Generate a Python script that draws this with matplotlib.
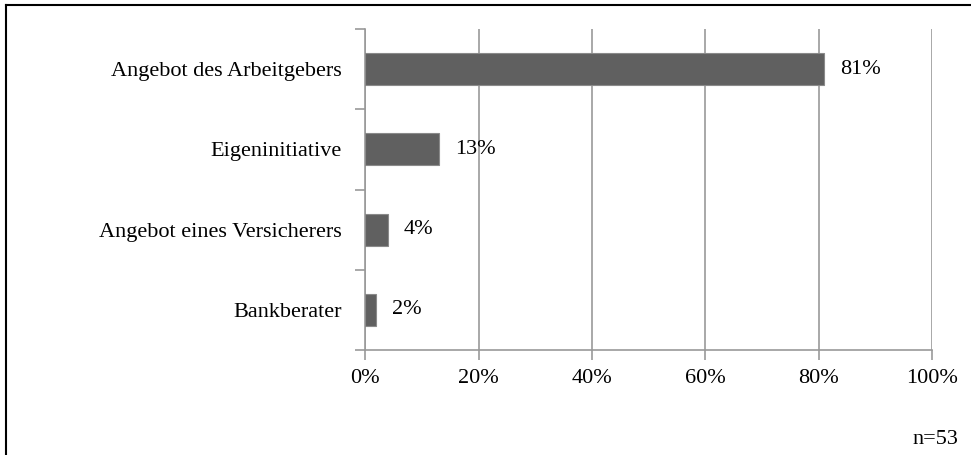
import matplotlib.pyplot as plt
from matplotlib.lines import Line2D
from matplotlib.ticker import FixedLocator, PercentFormatter

plt.rcParams['font.family'] = ['Liberation Serif', 'DejaVu Serif']

categories = ['Angebot des Arbeitgebers', 'Eigeninitiative',
              'Angebot eines Versicherers', 'Bankberater']
values = [81, 13, 4, 2]
labels = ['81%', '13%', '4%', '2%']

fig = plt.figure(figsize=(9.71, 4.55), dpi=100)
ax = fig.add_axes([0.376, 0.231, 0.584, 0.705])

ypos = list(range(len(categories)))
ax.barh(ypos, values, height=0.4, color='#606060', edgecolor='#8a8a8a',
        linewidth=0.8, zorder=3)
for y, v, t in zip(ypos, values, labels):
    ax.text(v + 2.8, y, t, va='center', ha='left', fontsize=16, zorder=4)

ax.set_xlim(0, 100)
ax.set_ylim(len(categories) - 0.5, -0.5)
ax.set_xticks([0, 20, 40, 60, 80, 100])
ax.xaxis.set_major_formatter(PercentFormatter(decimals=0))
ax.grid(axis='x', color='#999999', linewidth=1.2, zorder=0)

# category boundaries as major ticks, names on minor ticks
ax.yaxis.set_major_locator(FixedLocator([i - 0.5 for i in range(len(categories) + 1)]))
ax.yaxis.set_minor_locator(FixedLocator(ypos))
ax.set_yticklabels([], minor=False)
ax.set_yticklabels(categories, minor=True)
ax.tick_params(axis='y', which='major', length=7, color='#999999', width=1.2)
ax.tick_params(axis='y', which='minor', length=0, pad=17, labelsize=16)
ax.tick_params(axis='x', length=7, color='#999999', width=1.2, pad=7, labelsize=16)

for s in ['top', 'right']:
    ax.spines[s].set_visible(False)
for s in ['left', 'bottom']:
    ax.spines[s].set_color('#999999')
    ax.spines[s].set_linewidth(1.2)

fig.text(0.963, 0.033, 'n=53', ha='center', va='center', fontsize=16)

# frame around the chart (cut off at right and bottom)
fig.add_artist(Line2D([6 / 971, 1], [1 - 5 / 455, 1 - 5 / 455], color='black', linewidth=1.5))
fig.add_artist(Line2D([6 / 971, 6 / 971], [0, 1 - 5 / 455], color='black', linewidth=1.5))

fig.savefig('out.png', dpi=100)
